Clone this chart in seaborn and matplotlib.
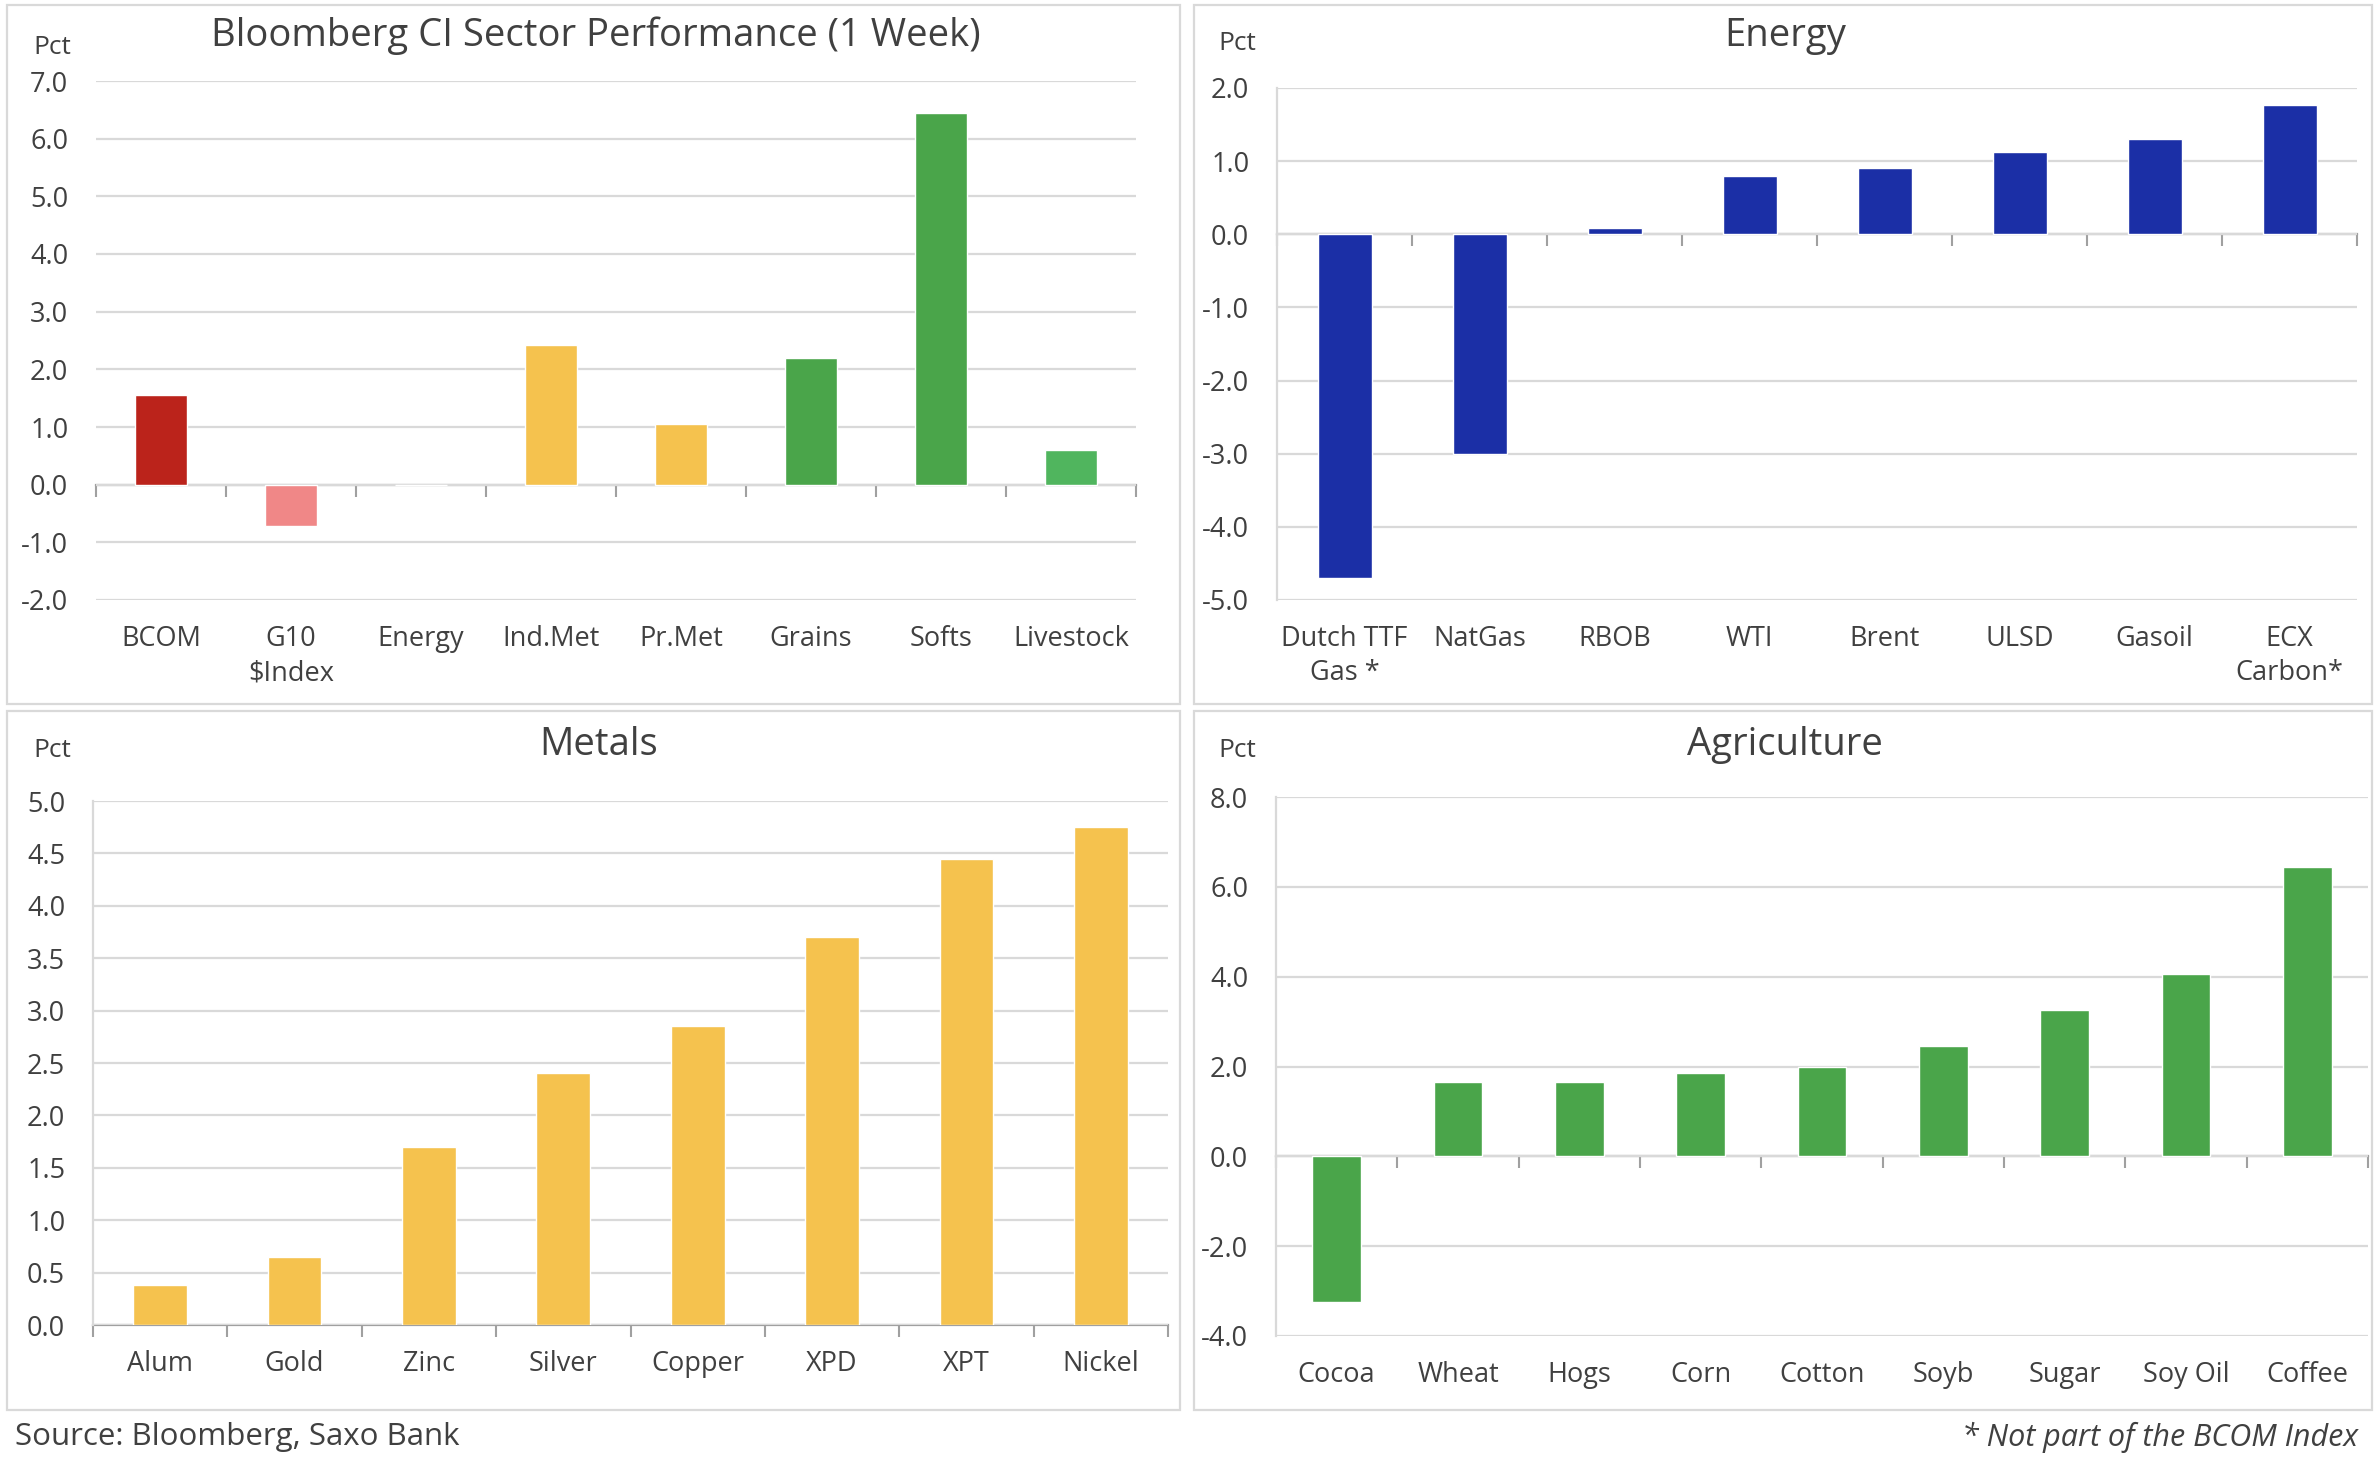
import numpy as np
import pandas as pd
import matplotlib
matplotlib.use('Agg')
import matplotlib.pyplot as plt
from matplotlib.patches import Rectangle
import seaborn as sns

# ---- data ----
sector_labels = ['BCOM', 'G10\n$Index', 'Energy', 'Ind.Met', 'Pr.Met', 'Grains', 'Softs', 'Livestock']
sector_values = [1.55, -0.72, 0.0, 2.42, 1.05, 2.2, 6.45, 0.6]
sector_colors = ['#BB231B', '#F08787', '#F5C24E', '#F5C24E', '#F5C24E', '#4AA54A', '#4AA54A', '#50B55E']

energy_labels = ['Dutch TTF\nGas *', 'NatGas', 'RBOB', 'WTI', 'Brent', 'ULSD', 'Gasoil', 'ECX\nCarbon*']
energy_values = [-4.7, -3.0, 0.08, 0.8, 0.9, 1.12, 1.3, 1.77]

metals_labels = ['Alum', 'Gold', 'Zinc', 'Silver', 'Copper', 'XPD', 'XPT', 'Nickel']
metals_values = [0.38, 0.65, 1.7, 2.4, 2.85, 3.7, 4.45, 4.75]

agri_labels = ['Cocoa', 'Wheat', 'Hogs', 'Corn', 'Cotton', 'Soyb', 'Sugar', 'Soy Oil', 'Coffee']
agri_values = [-3.25, 1.65, 1.65, 1.85, 2.0, 2.45, 3.25, 4.05, 6.45]

ENERGY_BLUE = '#1B2FA6'
METAL_GOLD = '#F5C24E'
AGRI_GREEN = '#4AA54A'

TEXT = '#404040'
GRID = '#D9D9D9'
ZERO = '#A0A0A0'

W, H = 2378, 1470

sns.set_style('white')
plt.rcParams['font.family'] = ['Open Sans', 'DejaVu Sans']


def px_axes(fig, l, t, r, b):
    return fig.add_axes([l / W, 1 - b / H, (r - l) / W, (b - t) / H])


def draw_panel(ax, labels, values, colors, ylim, step, left_spine=True):
    df = pd.DataFrame({'cat': labels, 'val': values})
    sns.barplot(data=df, x='cat', y='val', hue='cat', palette=colors,
                legend=False, width=0.4, saturation=1, ax=ax, zorder=3)
    n = len(labels)
    ax.set_xlim(-0.5, n - 0.5)
    ax.set_ylim(*ylim)
    ticks = np.arange(ylim[0], ylim[1] + step / 2, step)
    ax.set_yticks(ticks, labels=[f'{t:.1f}' for t in ticks])
    ax.yaxis.grid(True, color=GRID, lw=1.6)
    ax.set_axisbelow(True)
    ax.set_xlabel('')
    ax.set_ylabel('')
    for s in ['top', 'right', 'bottom']:
        ax.spines[s].set_visible(False)
    ax.spines['left'].set_visible(left_spine)
    ax.spines['left'].set_color(GRID)
    ax.spines['left'].set_linewidth(1.6)
    ax.tick_params(axis='x', length=0, pad=18, labelsize=19.5, labelcolor=TEXT)
    ax.tick_params(axis='y', length=0, pad=20, labelsize=19.5, labelcolor=TEXT)
    for lab in ax.get_xticklabels():
        lab.set_linespacing(1.3)

    # zero line with category boundary ticks
    loc = (0 - ylim[0]) / (ylim[1] - ylim[0])
    sec = ax.secondary_xaxis(loc)
    sec.set_alignment('bottom')
    sec.set_xticks(np.arange(n + 1) - 0.5, labels=[''] * (n + 1))
    sec.tick_params(direction='out', length=8.5, width=1.5, color=ZERO)
    sec.spines['bottom'].set_color(ZERO)
    sec.spines['bottom'].set_linewidth(1.6)


fig = plt.figure(figsize=(W / 100, H / 100), dpi=100)
fig.patch.set_facecolor('white')

# panel frames
for (x0, y0, x1, y1) in [(7, 5, 1180, 704), (1194, 5, 2372, 704),
                         (7, 711, 1180, 1410), (1194, 711, 2372, 1410)]:
    fig.patches.append(Rectangle((x0 / W, 1 - y1 / H), (x1 - x0) / W, (y1 - y0) / H,
                                 transform=fig.transFigure, fill=False,
                                 edgecolor=GRID, lw=1.6))

ax1 = px_axes(fig, 96, 81, 1136, 600)
draw_panel(ax1, sector_labels, sector_values, sector_colors, (-2, 7), 1.0, left_spine=False)

ax2 = px_axes(fig, 1277, 88, 2357, 600)
draw_panel(ax2, energy_labels, energy_values, [ENERGY_BLUE] * len(energy_labels), (-5, 2), 1.0)

ax3 = px_axes(fig, 93, 801, 1168, 1325)
draw_panel(ax3, metals_labels, metals_values, [METAL_GOLD] * len(metals_labels), (0, 5), 0.5)

ax4 = px_axes(fig, 1276, 797, 2368, 1336)
draw_panel(ax4, agri_labels, agri_values, [AGRI_GREEN] * len(agri_labels), (-4, 8), 2.0)

# titles and unit labels
for x, y, s in [(596, 36, 'Bloomberg CI Sector Performance (1 Week)'), (1785, 36, 'Energy'),
                (599, 745, 'Metals'), (1785, 745, 'Agriculture')]:
    fig.text(x / W, 1 - y / H, s, ha='center', va='center', fontsize=27.5, color=TEXT)
for x, y in [(52, 47), (1237, 44), (52, 751), (1237, 751)]:
    fig.text(x / W, 1 - y / H, 'Pct', ha='center', va='center', fontsize=19, color=TEXT)

fig.text(15 / W, 1 - 1437 / H, 'Source: Bloomberg, Saxo Bank', ha='left', va='center',
         fontsize=22.5, color=TEXT)
fig.text(2358 / W, 1 - 1437 / H, '* Not part of the BCOM Index', ha='right', va='center',
         fontsize=22, color=TEXT, style='italic')

fig.savefig('out.png', dpi=100, facecolor='white')
